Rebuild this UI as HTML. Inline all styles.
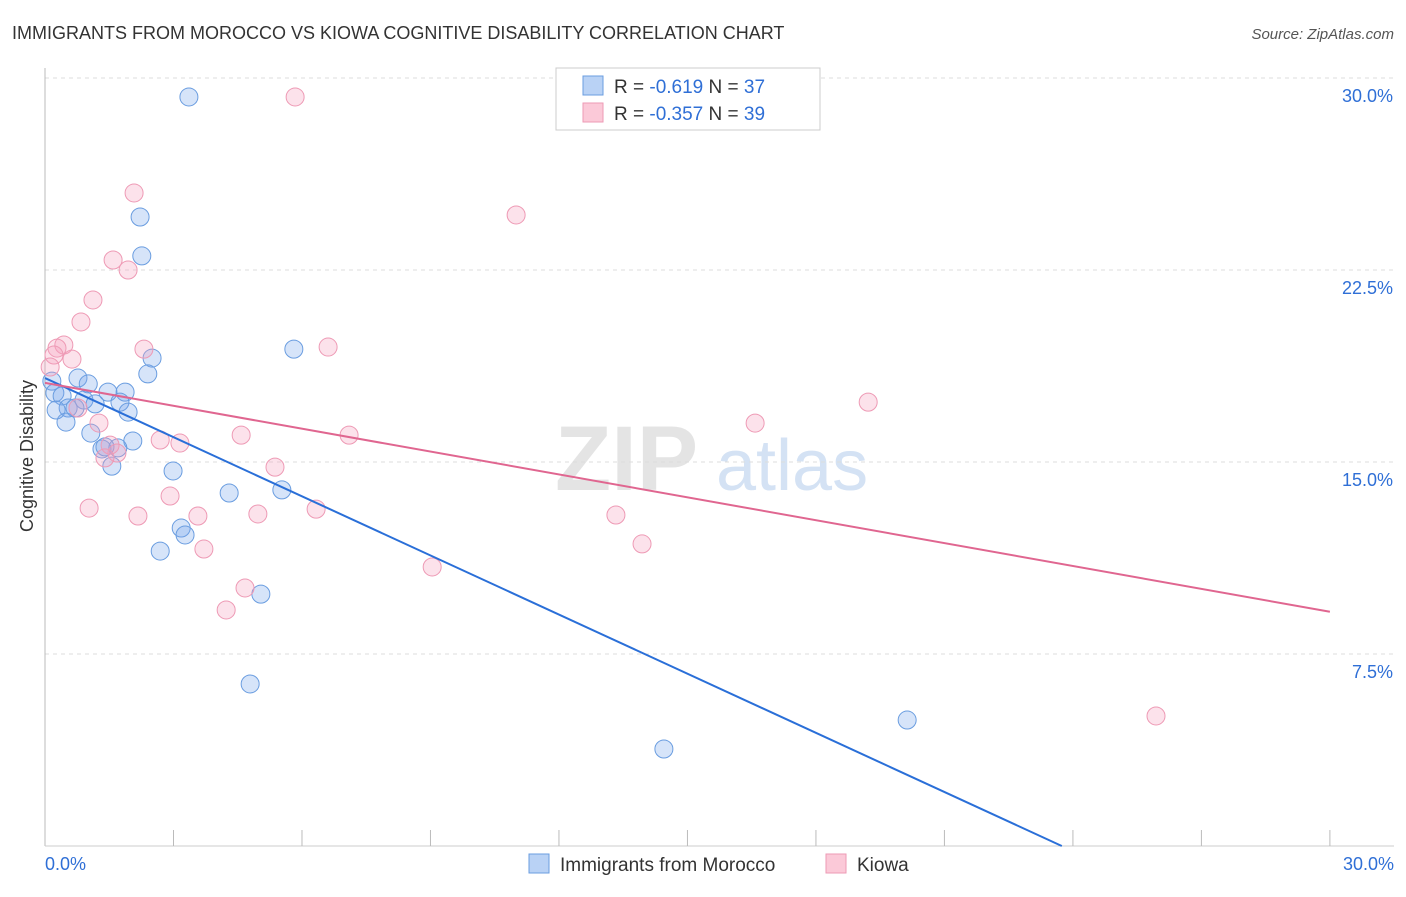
<!DOCTYPE html>
<html><head><meta charset="utf-8"><style>
body{margin:0;background:#fff;font-family:"Liberation Sans",sans-serif;}
svg text{font-family:"Liberation Sans",sans-serif;}
</style></head><body>
<svg width="1406" height="892" id="c">
<text x="12" y="39" font-size="18" fill="#333">IMMIGRANTS FROM MOROCCO VS KIOWA COGNITIVE DISABILITY CORRELATION CHART</text>
<text x="1394" y="39" font-size="15" fill="#555" font-style="italic" text-anchor="end">Source: ZipAtlas.com</text>
<text x="33" y="456" font-size="18" fill="#333" text-anchor="middle" transform="rotate(-90 33 456)">Cognitive Disability</text>
<g>
<text x="555" y="490" font-size="92" fill="#e4e4e4" font-family="Liberation Serif" font-weight="bold">ZIP</text>
<text x="716" y="490" font-size="72" fill="#d4e2f4">atlas</text>
</g>
<g id="grid"></g><g id="pts"></g><g id="lines"></g>
<g>
<rect x="556" y="68" width="264" height="62" fill="#fff" stroke="#ccc"/>
<rect x="583" y="76" width="20" height="19" fill="#b9d2f5" stroke="#6a9de0"/>
<rect x="583" y="103" width="20" height="19" fill="#fbc9d8" stroke="#ee9ab5"/>
<text x="614" y="93" font-size="19" fill="#333">R = <tspan fill="#2f6fd6">-0.619</tspan>   N = <tspan fill="#2f6fd6">37</tspan></text>
<text x="614" y="120" font-size="19" fill="#333">R = <tspan fill="#2f6fd6">-0.357</tspan>   N = <tspan fill="#2f6fd6">39</tspan></text>
</g>
<g>
<rect x="529" y="854" width="20" height="19" fill="#b9d2f5" stroke="#6a9de0"/>
<text x="560" y="871" font-size="19" fill="#333">Immigrants from Morocco</text>
<rect x="826" y="854" width="20" height="19" fill="#fbc9d8" stroke="#ee9ab5"/>
<text x="857" y="871" font-size="19" fill="#333">Kiowa</text>
</g>
</svg>
<script>
const yTicks=[7.5,15,22.5,30];
const yTickLabels=["7.5%","15.0%","22.5%","30.0%"];
const xTickLabels=["0.0%","30.0%"];
const blueX=[3.36,2.22,2.26,5.81,2.50,2.40,0.16,0.77,1.01,0.23,0.40,1.47,1.87,0.91,1.17,1.75,0.54,0.70,0.26,1.94,0.49,1.07,2.05,1.33,1.70,1.56,2.99,4.30,5.53,3.18,3.27,2.69,5.04,4.79,20.13,14.45,1.40];
const blueY=[29.26,24.57,23.05,19.41,19.06,18.44,18.16,18.28,18.05,17.70,17.58,17.73,17.73,17.42,17.27,17.34,17.11,17.11,17.03,16.95,16.56,16.13,15.82,15.51,15.55,14.84,14.65,13.79,13.91,12.42,12.15,11.52,9.84,6.33,4.92,3.79,15.59];
const pinkX=[5.84,2.08,11.00,1.59,1.94,1.12,0.84,0.44,0.28,0.21,0.63,2.31,6.61,0.12,0.77,1.26,4.58,7.10,2.69,3.15,1.52,1.68,1.40,5.37,2.92,1.03,6.33,2.17,3.57,4.97,13.33,13.94,3.71,9.04,4.67,4.23,16.58,19.22,25.94];
const pinkY=[29.26,25.51,24.65,22.89,22.50,21.33,20.47,19.57,19.45,19.18,19.02,19.41,19.49,18.71,17.11,16.52,16.05,16.05,15.86,15.74,15.66,15.35,15.16,14.80,13.67,13.20,13.16,12.89,12.89,12.97,12.93,11.80,11.60,10.90,10.08,9.22,16.52,17.34,5.08];
const blueTrend=[18.28,-0.77];
const pinkTrend=[18.09,-0.298];
const NS="http://www.w3.org/2000/svg";
const X=v=>45+v*42.83, Y=v=>846-v*25.6;
function mk(t,a,p){const e=document.createElementNS(NS,t);for(const k in a)e.setAttribute(k,a[k]);p.appendChild(e);return e;}
const g=document.getElementById('grid');
yTicks.forEach((t,i)=>{
 const l=mk('line',{x1:45,x2:1394,y1:Y(t),y2:Y(t),stroke:'#ddd','stroke-dasharray':'4,4'},g);
 
 
 const tx=mk('text',{x:1393,y:Y(t)+24,'font-size':18,fill:'#2f6fd6','text-anchor':'end'},g);
 tx.textContent=yTickLabels[i];
 
 
});
mk('line',{x1:45,x2:45,y1:68,y2:846,stroke:'#bbb'},g);
mk('line',{x1:45,x2:1394,y1:846,y2:846,stroke:'#ccc'},g);
for(let v=3;v<=30;v+=3){const l=mk('line',{x1:X(v),x2:X(v),y1:830,y2:846,stroke:'#bbb'},g);
 
 }
[[0,'start',45],[30,'end',1394]].forEach((a,i)=>{const t=mk('text',{x:a[2],y:870,'font-size':18,fill:'#2f6fd6','text-anchor':a[1]},g);t.textContent=xTickLabels[i];
 
 });
const p=document.getElementById('pts');
function pts(xs,ys,fill,stroke,name){xs.forEach((x,i)=>{const c=mk('circle',{cx:X(x),cy:Y(ys[i]),r:9,fill:fill,stroke:stroke,'stroke-width':1},p);
 
 });}
pts(blueX,blueY,'rgba(120,165,235,0.3)','#6a9de0','morocco-point');
pts(pinkX,pinkY,'rgba(245,160,190,0.3)','#ee9ab5','kiowa-point');
const L=document.getElementById('lines');
const bx2=Math.min(30,-blueTrend[0]/blueTrend[1]);
const bl=mk('line',{x1:X(0),y1:Y(blueTrend[0]),x2:X(bx2),y2:Y(blueTrend[0]+blueTrend[1]*bx2),stroke:'#2a6fd8','stroke-width':2},L);


const pl=mk('line',{x1:X(0),y1:Y(pinkTrend[0]),x2:X(30),y2:Y(pinkTrend[0]+pinkTrend[1]*30),stroke:'#e06690','stroke-width':2},L);


</script>
</body></html>
